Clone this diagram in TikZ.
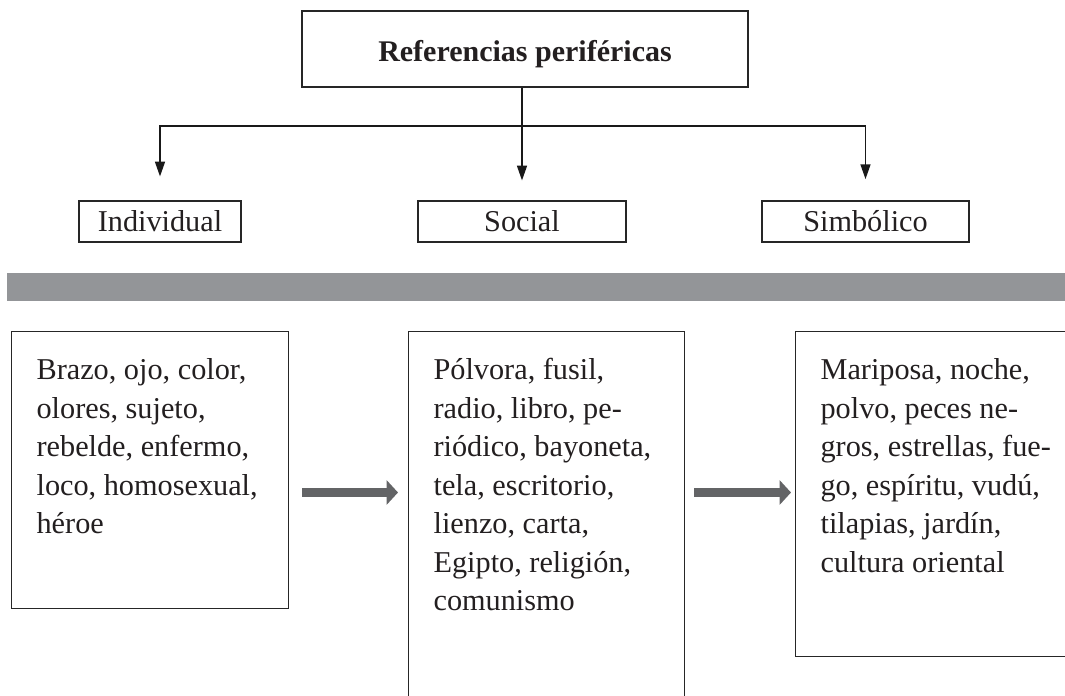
\documentclass[tikz,border=0pt]{standalone}
\usepackage{fontspec}
\setmainfont{Liberation Serif}
\usetikzlibrary{arrows.meta}

\definecolor{textonegro}{RGB}{35,31,32}
\definecolor{barragris}{RGB}{147,149,152}
\definecolor{flechagris}{RGB}{99,100,102}

% text block of a lower box: width, height, lines
\newcommand{\listado}[3]{%
  \parbox[c][#2][t]{#1}{\fontsize{22.7pt}{28.9pt}\selectfont\raggedright
    \setlength{\leftskip}{18.75pt}\vspace*{15.8pt}\strut #3}}

\tikzset{
  caja/.style={draw=black!85, line width=0.9pt, inner sep=0pt, text=textonegro},
  etiqueta/.style={caja, minimum height=30.75pt, font=\fontsize{22.7pt}{27pt}\selectfont},
  flecha/.style={draw=black!90, line width=0.9pt, -{Triangle[length=11pt,width=7.5pt]}},
  flechagruesa/.style={draw=flechagris, line width=6.75pt, -{Triangle[length=8.5pt,width=18pt]}},
}

\begin{document}
\begin{tikzpicture}[x=0.75pt,y=-0.75pt]
  \useasboundingbox (0,0) rectangle (1065,696);
  \clip (0,0) rectangle (1065,696);

  % Top box
  \node[caja, minimum width=334.5pt, minimum height=57pt,
        font=\bfseries\fontsize{22.5pt}{27pt}\selectfont] (refs) at (525,49)
        {\raisebox{-9.5pt}[0pt][0pt]{Referencias periféricas}};

  % Three categories
  \node[etiqueta, minimum width=121.5pt] (individual) at (160,221.5) {Individual};
  \node[etiqueta, minimum width=156pt] (social) at (522,221.5) {Social};
  \node[etiqueta, minimum width=155.25pt] (simbolico) at (865.5,221.5) {Simbólico};

  \coordinate (bus) at (522,126);
  \draw[flecha, shorten >=15pt] (refs.south -| social.north) -- (social.north);
  \draw[flecha, shorten >=18pt] (bus) -| (individual.north);
  \draw[flecha, shorten >=16pt] (bus) -| (simbolico.north);

  % Gray band
  \fill[barragris] (7,273) rectangle (1070,301);

  % Lower boxes
  \node[caja, anchor=north west] (brazo) at (11,331) {\listado{207.75pt}{207.75pt}{%
    Brazo, ojo, color,\\
    olores, sujeto,\\
    rebelde, enfermo,\\
    loco, homosexual,\\
    héroe}};
  \node[caja, anchor=north west] (polvora) at (408,331) {\listado{207pt}{300pt}{%
    Pólvora, fusil,\\
    radio, libro, pe-\\
    riódico, bayoneta,\\
    tela, escritorio,\\
    lienzo, carta,\\
    Egipto, religión,\\
    comunismo}};
  \node[caja, anchor=north west] (mariposa) at (795,331) {\listado{225pt}{243.75pt}{%
    Mariposa, noche,\\
    polvo, peces ne-\\
    gros, estrellas, fue-\\
    go, espíritu, vudú,\\
    tilapias, jardín,\\
    cultura oriental}};

  \coordinate (fila) at (0,492.5);
  \draw[flechagruesa, shorten <=9.75pt, shorten >=7.5pt] (brazo.east |- fila) -- (polvora.west |- fila);
  \draw[flechagruesa, shorten <=6.75pt, shorten >=3pt] (polvora.east |- fila) -- (mariposa.west |- fila);
\end{tikzpicture}
\end{document}
